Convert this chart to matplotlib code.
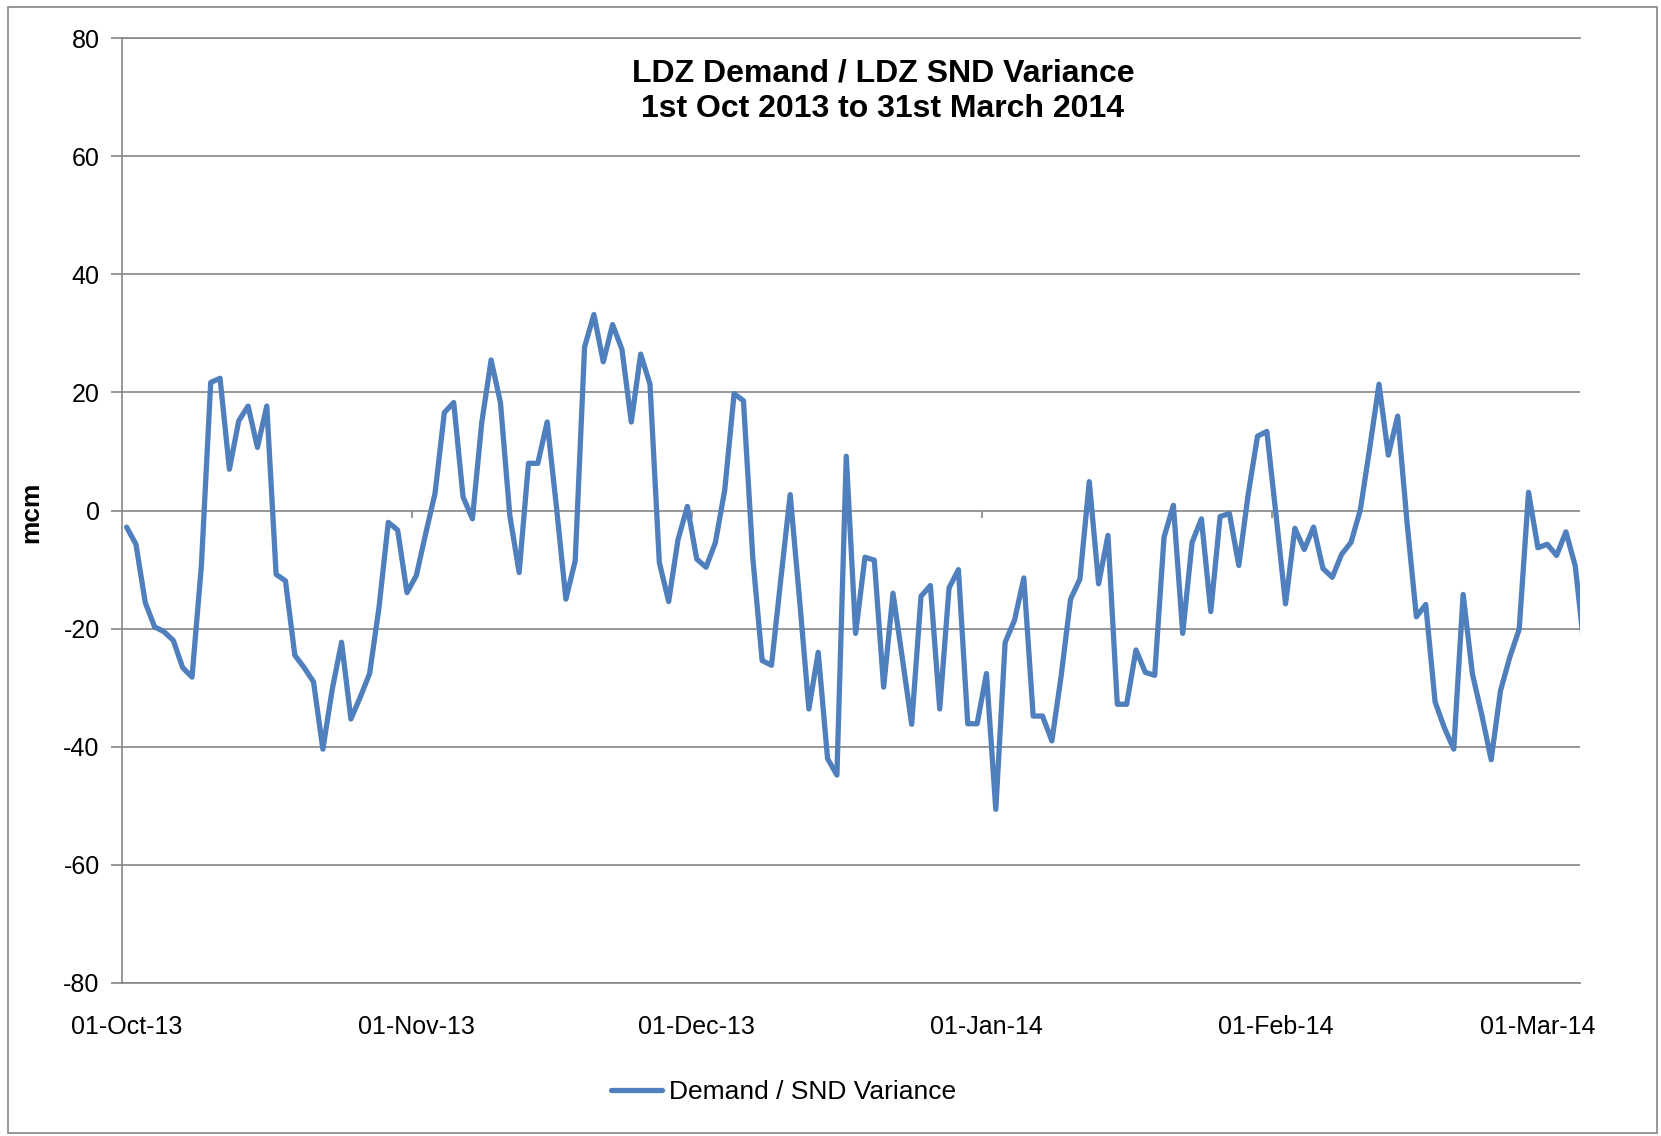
import matplotlib
matplotlib.use("Agg")
import matplotlib.pyplot as plt
import matplotlib.dates as mdates
from matplotlib.patches import Rectangle
import numpy as np
import pandas as pd

plt.rcParams['font.family'] = ['Liberation Sans', 'DejaVu Sans']
plt.rcParams['axes.unicode_minus'] = False

# daily variance (mcm), one list per month
oct_vals = [-2.8, -5.7, -15.6, -19.7, -20.5, -22.0, -26.6, -28.2, -9.4, 21.7,
            22.4, 7.0, 15.2, 17.7, 10.7, 17.7, -10.8, -11.9, -24.5, -26.6,
            -29.0, -40.4, -30.3, -22.3, -35.3, -31.6, -27.6, -16.5, -2.0, -3.3,
            -13.9]
nov_vals = [-11.0, -3.9, 2.9, 16.6, 18.3, 2.3, -1.4, 14.9, 25.5, 18.3,
            -0.8, -10.5, 8.0, 8.0, 15.0, 0.5, -15.0, -8.5, 27.7, 33.2,
            25.2, 31.5, 27.3, 15.0, 26.5, 21.4, -8.8, -15.4, -4.9, 0.7]
dec_vals = [-8.2, -9.6, -5.4, 3.5, 19.8, 18.6, -8.0, -25.4, -26.2, -11.6,
            2.7, -15.0, -33.6, -24.0, -42.0, -44.8, 9.2, -20.8, -7.9, -8.4,
            -29.9, -14.0, -25.0, -36.2, -14.5, -12.7, -33.6, -13.1, -10.0, -36.1,
            -36.1]
jan_vals = [-27.6, -50.6, -22.3, -18.6, -11.4, -34.8, -34.8, -39.0, -27.9, -15.0,
            -11.6, 4.9, -12.4, -4.2, -32.8, -32.8, -23.6, -27.4, -27.9, -4.5,
            0.9, -20.8, -5.4, -1.4, -17.1, -1.0, -0.5, -9.3, 2.7, 12.6,
            13.4]
feb_vals = [-1.0, -15.8, -3.0, -6.6, -2.8, -9.8, -11.3, -7.4, -5.4, 0.1,
            10.5, 21.4, 9.4, 16.0, -2.0, -18.0, -15.9, -32.4, -36.8, -40.4,
            -14.2, -27.7, -34.6, -42.2, -30.5, -24.8, -20.1, 3.1]
mar_vals = [-6.3, -5.7, -7.6, -3.6, -9.4, -24.0]

values = oct_vals + nov_vals + dec_vals + jan_vals + feb_vals + mar_vals
dates = pd.date_range('2013-10-01', periods=len(values), freq='D')

month_starts = pd.to_datetime(['2013-10-01', '2013-11-01', '2013-12-01',
                               '2014-01-01', '2014-02-01', '2014-03-01'])
y_ticks = [-80, -60, -40, -20, 0, 20, 40, 60, 80]

grid_col = '#868686'
line_col = '#4F7FBC'

fig = plt.figure(figsize=(16.61, 11.36), dpi=100)
ax = fig.add_axes([0.0734, 0.1347, 0.9512 - 0.0734, 0.9664 - 0.1347])

ax.plot(dates, values, color=line_col, lw=3.8, solid_joinstyle='round',
        solid_capstyle='round', label='Demand / SND Variance', zorder=3)

# axis runs half a day either side of the first/last shown day
x0 = mdates.date2num(dates[0]) - 0.5
x1 = mdates.date2num(pd.Timestamp('2014-03-05')) + 0.5
ax.set_xlim(x0, x1)
ax.set_ylim(-80, 80)

ax.set_yticks(y_ticks)
ax.yaxis.grid(True, color=grid_col, lw=1.2)
ax.set_axisbelow(True)

ax.set_xticks(month_starts)
ax.xaxis.set_major_formatter(mdates.DateFormatter('%d-%b-%y'))
ax.tick_params(axis='x', length=0, pad=23, labelsize=18)
ax.tick_params(axis='y', length=8, width=1.2, color=grid_col, pad=8, labelsize=18)

# small tick marks on the zero line at month boundaries
bounds = mdates.date2num(month_starts[1:]) - 0.5
ax.vlines(bounds, -1.3, 0, color=grid_col, lw=1.2, zorder=2)

for s in ['left', 'bottom', 'top']:
    ax.spines[s].set_color(grid_col)
    ax.spines[s].set_linewidth(1.2)
ax.spines['right'].set_visible(False)

fig.text(0.5316, 0.920, 'LDZ Demand / LDZ SND Variance\n1st Oct 2013 to 31st March 2014',
         ha='center', va='center', fontsize=23, fontweight='bold', linespacing=1.25)
fig.text(0.019, 1 - 512 / 1136, 'mcm', rotation=90, ha='center', va='center',
         fontsize=19, fontweight='bold')

fig.legend(loc='center', bbox_to_anchor=(0.472, 0.0385), frameon=False,
           fontsize=19, handlelength=1.9, handletextpad=0.3)

fig.patches.append(Rectangle((0.0048, 0.0026), 0.993, 0.991, transform=fig.transFigure,
                             fill=False, edgecolor=grid_col, lw=1.2))

fig.savefig('out.png', dpi=100)
